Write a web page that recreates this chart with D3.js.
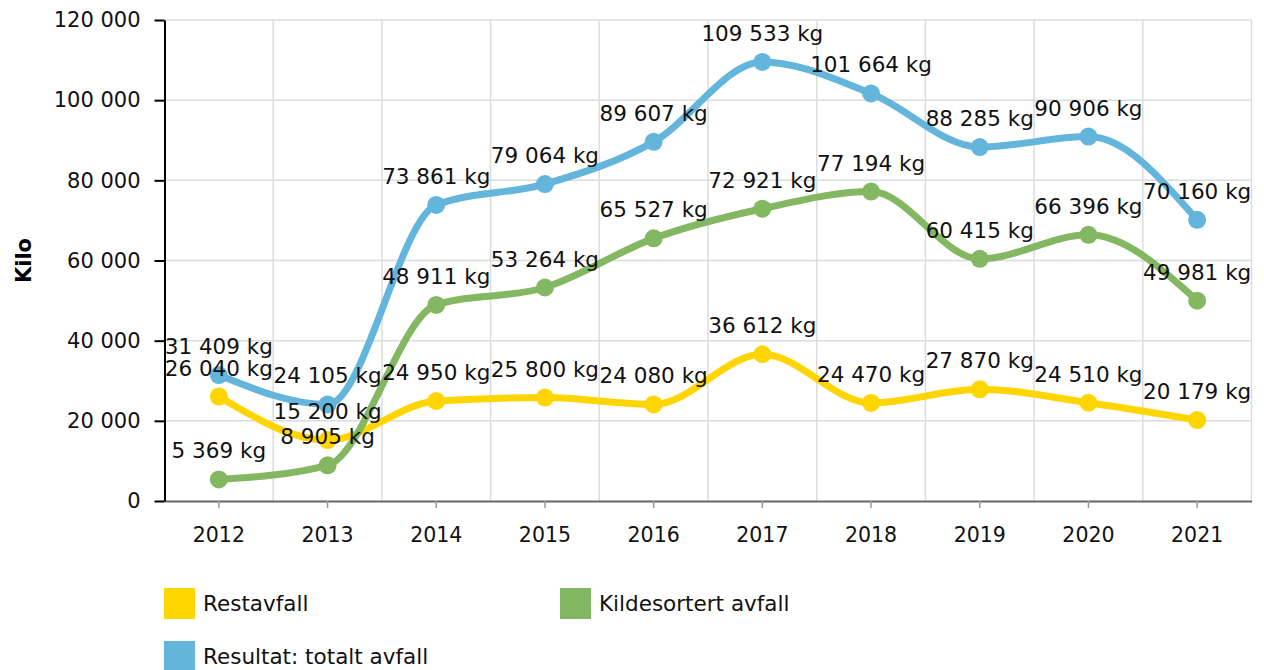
<!DOCTYPE html>
<html>
<head>
<meta charset="utf-8">
<script src="https://cdn.jsdelivr.net/npm/d3@7"></script>
<style>
  body { margin: 0; background: #fff; }
  svg { display: block; font-family: Verdana, "DejaVu Sans", sans-serif; }
</style>
</head>
<body>
<svg id="chart" width="1264" height="670"></svg>
<script>
// data
const years = ['2012', '2013', '2014', '2015', '2016', '2017', '2018', '2019', '2020', '2021'];
const restavfall = [26040, 15200, 24950, 25800, 24080, 36612, 24470, 27870, 24510, 20179];
const kildesortert = [5369, 8905, 48911, 53264, 65527, 72921, 77194, 60415, 66396, 49981];
const totalt = [31409, 24105, 73861, 79064, 89607, 109533, 101664, 88285, 90906, 70160];
const yTicks = [0, 20000, 40000, 60000, 80000, 100000, 120000];
const seriesNames = ['Restavfall', 'Kildesortert avfall', 'Resultat: totalt avfall'];
const seriesColors = ['#ffd500', '#84b762', '#64b5dc'];

const series = [restavfall, kildesortert, totalt].map((vals, i) => ({
  name: seriesNames[i],
  color: seriesColors[i],
  values: vals.map((v, j) => ({ year: years[j], value: v }))
}));

const svg = d3.select('#chart');
const plotLeft = 164.5, plotRight = 1251.5, plotTop = 20, plotBottom = 501;

const locale = d3.formatLocale({ decimal: ',', thousands: ' ', grouping: [3], currency: ['', ''] });
const fmt = locale.format(',');

const x = d3.scaleBand().domain(years).range([plotLeft, plotRight]);
const y = d3.scaleLinear().domain([0, 120000]).range([plotBottom, plotTop]);
const cx = d => x(d) + x.bandwidth() / 2;

// grid
const grid = svg.append('g').attr('stroke', '#dcdcdc').attr('stroke-width', 1.5);
grid.selectAll('.h').data(yTicks.slice(1)).enter().append('line')
    .attr('x1', plotLeft).attr('x2', plotRight)
    .attr('y1', d => y(d)).attr('y2', d => y(d));
grid.selectAll('.v').data(years).enter().append('line')
    .attr('x1', d => x(d) + x.bandwidth()).attr('x2', d => x(d) + x.bandwidth())
    .attr('y1', plotTop).attr('y2', plotBottom);

// x axis
const gx = svg.append('g')
    .attr('transform', `translate(0,${plotBottom})`)
    .call(d3.axisBottom(x).tickSize(7).tickPadding(19).tickSizeOuter(0))
    .attr('font-family', null)
    .attr('font-size', 20.5);
gx.select('.domain').attr('stroke', '#666').attr('stroke-width', 2);
gx.selectAll('.tick line').attr('stroke', '#999').attr('stroke-width', 1.5);
gx.selectAll('text').attr('fill', '#111');

// y axis
const gy = svg.append('g')
    .attr('transform', `translate(${plotLeft},0)`)
    .call(d3.axisLeft(y).tickValues(yTicks).tickFormat(fmt).tickSize(10).tickPadding(14).tickSizeOuter(0))
    .attr('font-family', null)
    .attr('font-size', 21);
gy.select('.domain').attr('stroke', '#000').attr('stroke-width', 2);
gy.selectAll('.tick line').attr('stroke', '#000').attr('stroke-width', 2);
gy.selectAll('text').attr('fill', '#111');

svg.append('text')
    .attr('transform', `translate(31,${(plotTop + plotBottom) / 2}) rotate(-90)`)
    .attr('text-anchor', 'middle')
    .attr('font-size', 21)
    .attr('font-weight', 'bold')
    .text('Kilo');

// lines and points
const line = d3.line()
    .x(d => cx(d.year))
    .y(d => y(d.value))
    .curve(d3.curveMonotoneX);

const gs = svg.selectAll('.series').data(series).enter().append('g').attr('class', 'series');
gs.append('path')
    .attr('fill', 'none')
    .attr('stroke', d => d.color)
    .attr('stroke-width', 7)
    .attr('stroke-linecap', 'round')
    .attr('d', d => line(d.values));
gs.selectAll('circle')
    .data(d => d.values.map(v => ({ ...v, color: d.color })))
    .enter().append('circle')
    .attr('cx', d => cx(d.year))
    .attr('cy', d => y(d.value))
    .attr('r', 9)
    .attr('fill', d => d.color);

// value labels on top
const labels = svg.append('g')
    .attr('font-size', 21.5)
    .attr('text-anchor', 'middle')
    .attr('fill', '#111');
series.forEach(s => {
  labels.selectAll(null).data(s.values).enter().append('text')
      .attr('x', d => cx(d.year))
      .attr('y', d => y(d.value) - 21)
      .text(d => fmt(d.value) + ' kg');
});

// legend
const legendPos = [[164, 588], [560, 588], [164, 641]];
const lg = svg.selectAll('.legend').data(series).enter().append('g')
    .attr('class', 'legend')
    .attr('transform', (d, i) => `translate(${legendPos[i][0]},${legendPos[i][1]})`);
lg.append('rect').attr('width', 31).attr('height', 31).attr('fill', d => d.color);
lg.append('text')
    .attr('x', 39).attr('y', 23)
    .attr('font-size', 21.5)
    .attr('fill', '#111')
    .text(d => d.name);
</script>
</body>
</html>
